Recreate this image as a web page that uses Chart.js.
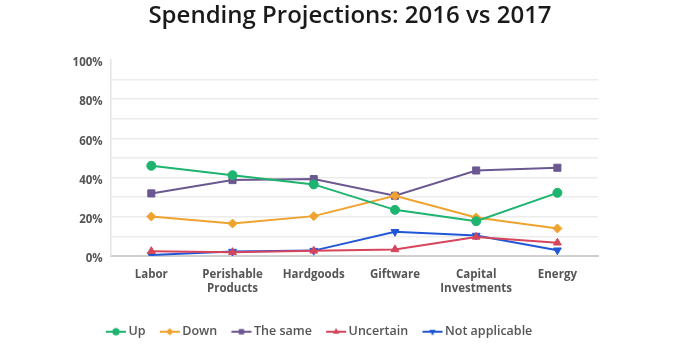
<!DOCTYPE html>
<html>
<head>
<meta charset="utf-8">
<script src="https://cdn.jsdelivr.net/npm/chart.js@4/dist/chart.umd.min.js"></script>
<style>
html,body{margin:0;padding:0;background:#fff;}
#wrap{width:700px;height:352px;position:relative;}
</style>
</head>
<body>
<div id="wrap"><canvas id="c" width="700" height="352"></canvas></div>
<script>
const categories = [["Labor"], ["Perishable", "Products"], ["Hardgoods"], ["Giftware"], ["Capital", "Investments"], ["Energy"]];
const seriesNames = ["Up", "Down", "The same", "Uncertain", "Not applicable"];
const upValues = [46, 41.2, 36.5, 23.5, 17.7, 32.2];
const downValues = [20.1, 16.5, 20.3, 30.7, 19.6, 14];
const sameValues = [31.9, 38.7, 39.2, 30.7, 43.6, 45];
const uncertainValues = [2.4, 1.9, 2.6, 3.3, 9.7, 6.7];
const notApplicableValues = [0.5, 2.2, 2.7, 12.3, 10.4, 2.9];
const yTickLabels = ["0%", "20%", "40%", "60%", "80%", "100%"];
const chartTitle = "Spending Projections: 2016 vs 2017";

const colors = ["#1cb46e", "#f0a22e", "#6b5891", "#d6455b", "#2157d6"];
const styles = ["circle", "rectRot", "rect", "triangle", "triangle"];
const rotations = [0, 0, 0, 0, 180];
const radii = [4.5, 4.5, 5, 4.5, 4.5];
const values = [upValues, downValues, sameValues, uncertainValues, notApplicableValues];

const FONT = "'Open Sans', sans-serif";

function legendIcon(i) {
  const cv = document.createElement('canvas');
  cv.width = 22; cv.height = 12;
  const ctx = cv.getContext('2d');
  ctx.strokeStyle = colors[i]; ctx.lineWidth = 2;
  ctx.beginPath(); ctx.moveTo(1, 6); ctx.lineTo(21, 6); ctx.stroke();
  ctx.fillStyle = colors[i];
  Chart.helpers.drawPoint(ctx, {pointStyle: styles[i], rotation: rotations[i], radius: 3.5, borderWidth: 0}, 11, 6);
  ctx.fill();
  return cv;
}

const centerTitle = {
  id: 'centerTitle',
  afterDraw(chart) {
    const ctx = chart.ctx;
    ctx.save();
    ctx.font = "600 24px " + FONT;
    ctx.fillStyle = '#1a1a1a';
    ctx.textAlign = 'center';
    ctx.textBaseline = 'middle';
    ctx.fillText(chartTitle, chart.width / 2, 16);
    ctx.restore();
  }
};

const datasets = seriesNames.map((n, i) => ({
  label: n,
  data: values[i],
  borderColor: colors[i],
  backgroundColor: colors[i],
  borderWidth: 2,
  pointStyle: styles[i],
  pointRotation: rotations[i],
  pointRadius: radii[i],
  pointBorderWidth: 1,
  tension: 0,
  fill: false
}));

new Chart(document.getElementById('c'), {
  type: 'line',
  data: { labels: categories, datasets: datasets },
  plugins: [centerTitle],
  options: {
    responsive: false,
    animation: false,
    devicePixelRatio: 1,
    layout: { padding: { left: 44, right: 102, top: 60, bottom: 4 } },
    plugins: {
      title: { display: false },
      legend: {
        position: 'bottom',
        labels: {
          usePointStyle: true,
          color: '#555',
          font: { family: FONT, size: 12.5, weight: '600' },
          padding: 18,
          generateLabels: (chart) => seriesNames.map((n, i) => ({
            text: n,
            pointStyle: legendIcon(i),
            fillStyle: colors[i],
            strokeStyle: colors[i],
            fontColor: '#555',
            lineWidth: 0,
            hidden: false,
            datasetIndex: i
          }))
        }
      },
      tooltip: { enabled: false }
    },
    scales: {
      x: {
        offset: true,
        grid: { display: false, drawTicks: false },
        border: { color: '#d0d0d0', width: 2 },
        ticks: {
          color: '#555',
          font: { family: FONT, size: 11.5, weight: '700' },
          padding: 12,
          maxRotation: 0
        }
      },
      y: {
        min: 0, max: 100,
        afterFit: (s) => { s.width = 66.7; },
        grid: {
          drawTicks: false,
          color: (ctx) => ctx.tick && ctx.tick.value === 100 ? 'rgba(0,0,0,0)' : '#ececec',
          lineWidth: 1.5
        },
        border: { color: '#e3e3e3', width: 1.5 },
        ticks: {
          stepSize: 10,
          color: '#555',
          font: { family: FONT, size: 11.5, weight: '700' },
          padding: 8,
          labelOffset: 3,
          callback: (v) => v % 20 === 0 ? yTickLabels[v / 20] : ''
        }
      }
    }
  }
});
</script>
</body>
</html>
